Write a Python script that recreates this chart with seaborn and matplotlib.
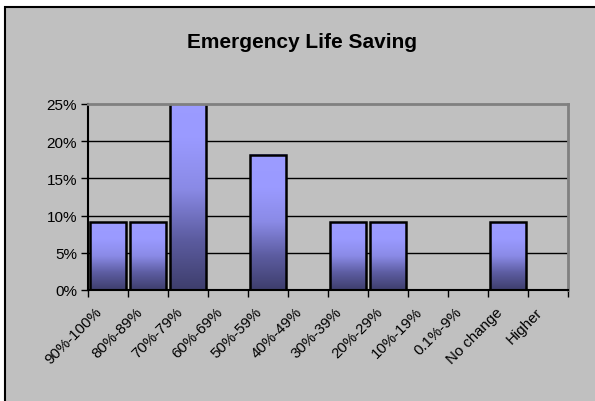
import numpy as np
import pandas as pd
import matplotlib
matplotlib.use("Agg")
import matplotlib.pyplot as plt
import matplotlib.transforms as mtransforms
from matplotlib.colors import LinearSegmentedColormap
from matplotlib.patches import Rectangle
import seaborn as sns

categories = ["90%-100%", "80%-89%", "70%-79%", "60%-69%", "50%-59%", "40%-49%",
              "30%-39%", "20%-29%", "10%-19%", "0.1%-9%", "No change", "Higher"]
values = [9.09, 9.09, 27.27, 0, 18.18, 0, 9.09, 9.09, 0, 0, 9.09, 0]
yticks = [0, 5, 10, 15, 20, 25]
ytick_labels = ["0%", "5%", "10%", "15%", "20%", "25%"]
title = "Emergency Life Saving"

df = pd.DataFrame({"cat": categories, "val": values})

sns.set_style("white")
plt.rcParams["font.family"] = ["Liberation Sans", "DejaVu Sans"]
plt.rcParams["text.color"] = "black"
plt.rcParams["xtick.color"] = "black"
plt.rcParams["ytick.color"] = "black"

W, H = 595, 402
fig = plt.figure(figsize=(W / 100, H / 100), dpi=100, facecolor="white")

# chart area background with top/left border
bg = Rectangle((4.5 / W, -0.1), 1.2, (H - 7.5) / H + 0.1,
               transform=fig.transFigure, facecolor="#C0C0C0",
               edgecolor="black", linewidth=1.5, zorder=-10)
fig.add_artist(bg)

left, right, top, bottom = 88, 568, 105, 291
ax = fig.add_axes([left / W, (H - bottom) / H, (right - left) / W, (bottom - top) / H])
ax.set_zorder(1)
ax.set_facecolor("#C0C0C0")

sns.barplot(data=df, x="cat", y="val", ax=ax, width=0.92, color="#9999FF",
            edgecolor="black", linewidth=1.8, saturation=1, zorder=3)

ax.set_xlim(-0.5, len(categories) - 0.5)
ax.set_ylim(0, 25)

cmap = LinearSegmentedColormap.from_list("g", ["#3E3E6C", "#5C5CA0", "#8A8AE6", "#9A9AFF", "#9C9CFF"])
grad = np.linspace(0, 1, 256).reshape(-1, 1)
for p in list(ax.patches):
    h = p.get_height()
    if h <= 0:
        p.set_visible(False)
        continue
    x0 = p.get_x()
    w = p.get_width()
    ax.imshow(grad, cmap=cmap, origin="lower", aspect="auto",
              extent=(x0, x0 + w, 0, h), zorder=2.5, interpolation="bilinear")
    p.set_facecolor("none")
ax.set_xlim(-0.5, len(categories) - 0.5)
ax.set_ylim(0, 25)

# gridlines
for yv in yticks[1:-1]:
    ax.axhline(yv, color="black", linewidth=1.0, zorder=1)

ax.set_yticks(yticks)
ax.set_yticklabels(ytick_labels, fontsize=11)
ax.tick_params(axis="y", length=5, width=1, direction="out", pad=3, colors="black", left=True)

# x ticks at boundaries, labels at centers
ax.set_xticks(np.arange(-0.5, len(categories), 1.0))
ax.set_xticklabels([])
ax.tick_params(axis="x", which="major", length=5, width=1, direction="out", bottom=True)
ax.set_xticks(np.arange(len(categories)), minor=True)
ax.set_xticklabels(categories, minor=True, fontsize=10.8, rotation=45, ha="right",
                   va="center", rotation_mode="anchor")
ax.tick_params(axis="x", which="minor", length=0, pad=14)
offset = mtransforms.ScaledTranslation(-8 / 100, 0, fig.dpi_scale_trans)
for lab in ax.get_xticklabels(minor=True):
    lab.set_transform(lab.get_transform() + offset)

ax.set_xlabel("")
ax.set_ylabel("")

for s in ["left", "bottom"]:
    ax.spines[s].set_color("black")
    ax.spines[s].set_linewidth(1.5)
for s in ["top", "right"]:
    ax.spines[s].set_color("#808080")
    ax.spines[s].set_linewidth(2)
for s in ax.spines.values():
    s.set_zorder(4)

fig.text(302 / W, (H - 43) / H, title, fontsize=15, fontweight="bold",
         ha="center", va="center", color="black")

fig.savefig("out.png", dpi=100, facecolor="white")
